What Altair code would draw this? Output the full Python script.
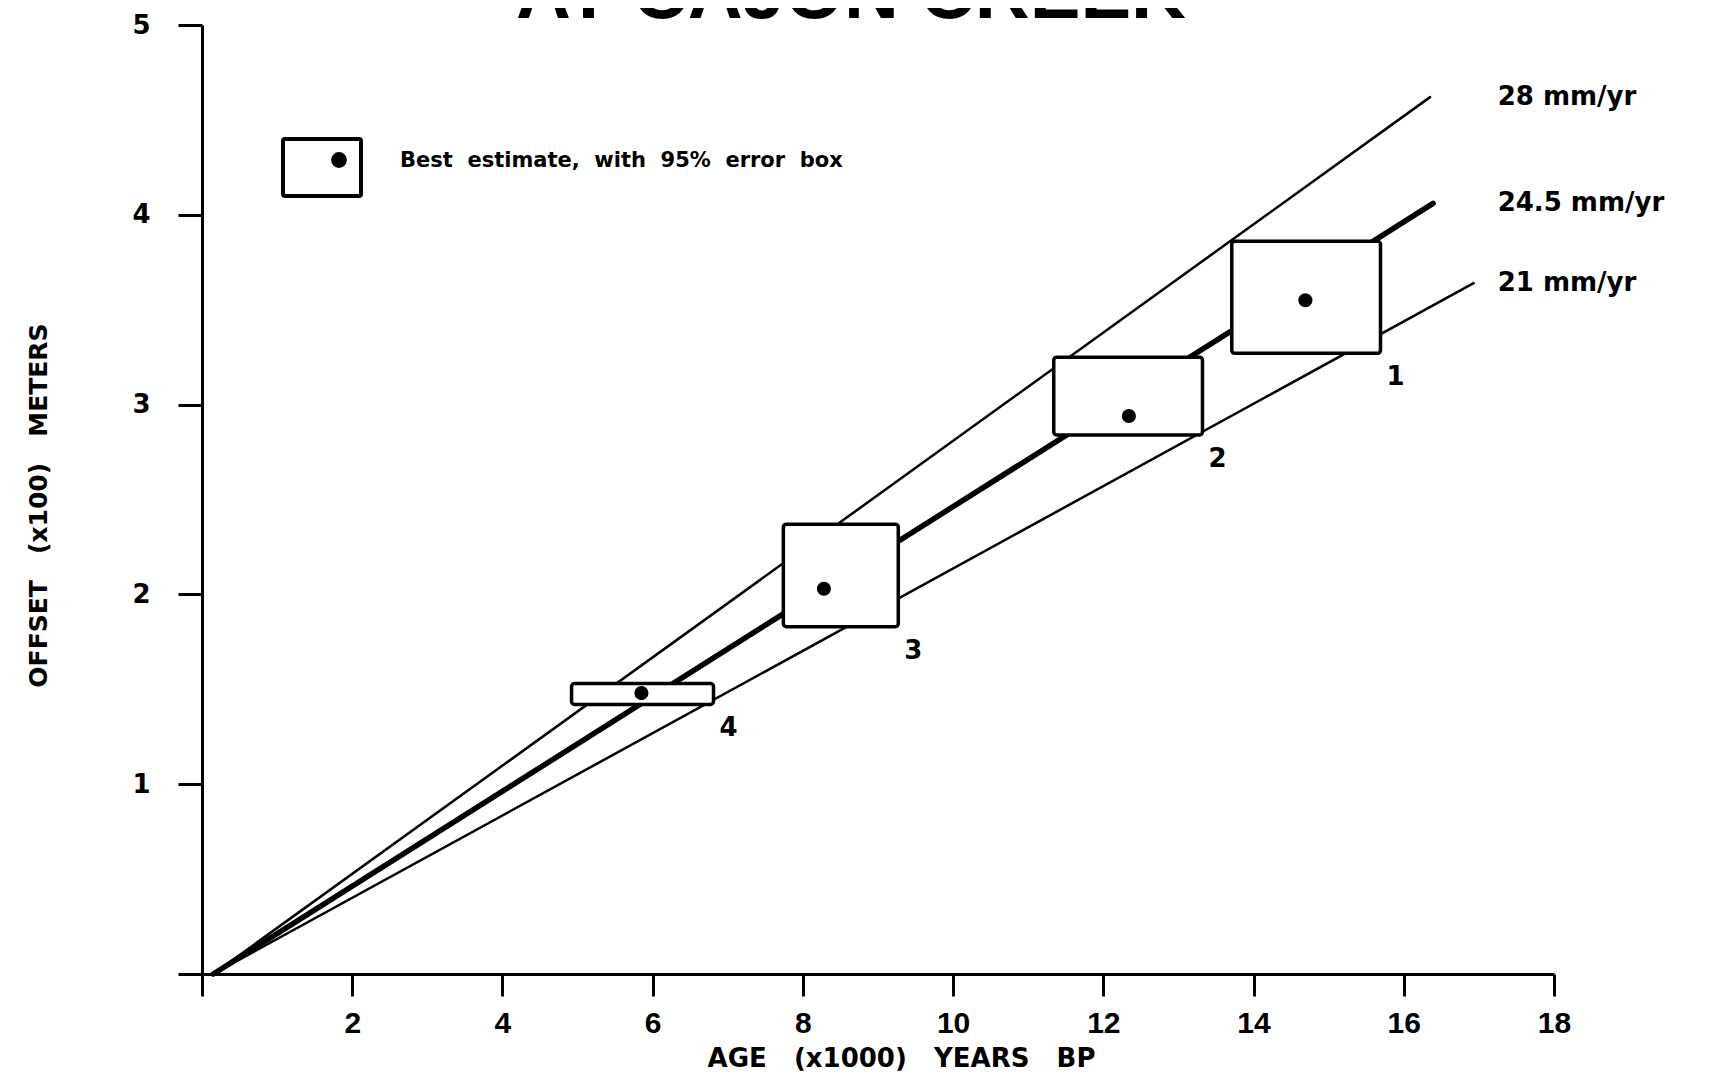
import altair as alt
import pandas as pd

NB = "\u00a0"

# Slip-rate lines (mm/yr), read as start / end points on the drawing (age in ka, offset in 100 m)
rate_labels = ["28 mm/yr", "24.5 mm/yr", "21 mm/yr"]
line_start_age = [0.15, 0.15, 0.15]
line_start_off = [0.0, 0.0, 0.0]
line_end_age = [16.35, 16.39, 16.93]
line_end_off = [4.62, 4.06, 3.64]

# Offset samples: 95% error boxes and best estimates
sample_ids = ["1", "2", "3", "4"]
age_lo = [13.71, 11.34, 7.74, 4.92]
age_hi = [15.69, 13.32, 9.27, 6.81]
off_lo = [3.27, 2.84, 1.83, 1.42]
off_hi = [3.86, 3.25, 2.37, 1.53]
best_age = [14.69, 12.34, 8.28, 5.85]
best_off = [3.55, 2.94, 2.03, 1.48]

x_ticks = [0, 2, 4, 6, 8, 10, 12, 14, 16, 18]
y_ticks = [0, 1, 2, 3, 4, 5]

lines_df = pd.DataFrame(
    [{"rate": r, "age": a0, "off": o0, "ord": 0}
     for r, a0, o0 in zip(rate_labels, line_start_age, line_start_off)]
    + [{"rate": r, "age": a1, "off": o1, "ord": 1}
       for r, a1, o1 in zip(rate_labels, line_end_age, line_end_off)]
)
ends_df = pd.DataFrame({"rate": rate_labels, "age": line_end_age, "off": line_end_off})
box_df = pd.DataFrame({
    "id": sample_ids, "age_lo": age_lo, "age_hi": age_hi,
    "off_lo": off_lo, "off_hi": off_hi, "age": best_age, "off": best_off,
})

BOLD = "DejaVu Sans"
S3 = NB * 3
xscale = alt.Scale(domain=[0, 18], nice=False, zero=False)
yscale = alt.Scale(domain=[0, 5], nice=False, zero=False)

x_axis = alt.Axis(
    values=x_ticks, format="d", labelExpr="datum.value == 0 ? '' : datum.label",
    title=f"AGE{S3}(x1000){S3}YEARS{S3}BP",
    tickSize=22, tickWidth=3, domainWidth=3, tickColor="black", domainColor="black",
    labelPadding=12, labelFont="Liberation Sans", labelFontWeight="bold", labelFontSize=30,
    labelColor="black", titleFont=BOLD, titleFontWeight="bold", titleFontSize=26,
    titleColor="black", titleX=699, titleY=92, titleAlign="center",
    titleBaseline="alphabetic", grid=False, labelFlush=False,
)
y_axis = alt.Axis(
    values=y_ticks, format="d", labelExpr="datum.value == 0 ? '' : datum.label",
    title=f"OFFSET{S3}(x100){S3}METERS",
    tickSize=24, tickWidth=3, domainWidth=3, tickColor="black", domainColor="black",
    labelPadding=28, labelFont=BOLD, labelFontWeight="bold", labelFontSize=26,
    labelColor="black", titleFont=BOLD, titleFontWeight="bold", titleFontSize=25,
    titleColor="black", titleX=-164, titleY=480, titleAngle=270, titleAlign="center",
    titleBaseline="middle", grid=False, labelFlush=False,
)


def X(field):
    return alt.X(field, type="quantitative", scale=xscale, axis=x_axis)


def Y(field):
    return alt.Y(field, type="quantitative", scale=yscale, axis=y_axis)


lines = alt.Chart(lines_df).mark_line(color="black", strokeCap="round").encode(
    x=X("age"), y=Y("off"), detail="rate:N", order="ord:Q",
    strokeWidth=alt.condition(
        alt.datum.rate == "24.5 mm/yr", alt.value(5.5), alt.value(2.5)
    ),
)

rate_text = alt.Chart(ends_df).mark_text(
    align="left", baseline="middle", font=BOLD, fontWeight="bold", fontSize=26, color="black"
).encode(x=alt.datum(17.25, scale=xscale), y=Y("off"), text="rate:N")

boxes = alt.Chart(box_df).mark_rect(
    fill="white", stroke="black", strokeWidth=3.5, cornerRadius=3
).encode(x=X("age_lo"), x2="age_hi", y=Y("off_lo"), y2="off_hi")

dots = alt.Chart(box_df).mark_circle(color="black", opacity=1, size=200).encode(
    x=X("age"), y=Y("off")
)

ids = alt.Chart(box_df).mark_text(
    align="center", baseline="middle", dx=15, dy=24,
    font=BOLD, fontWeight="bold", fontSize=26, color="black",
).encode(x=X("age_hi"), y=Y("off_lo"), text="id:N")

one = alt.Data(values=[{"k": 1}])
legend_box = alt.Chart(one).mark_rect(
    fill="white", stroke="black", strokeWidth=4, cornerRadius=2
).encode(x=alt.value(81), x2=alt.value(159), y=alt.value(114), y2=alt.value(171))
legend_dot = alt.Chart(one).mark_circle(color="black", opacity=1, size=250).encode(
    x=alt.value(137), y=alt.value(135)
)
legend_text = alt.Chart(one).mark_text(
    align="left", baseline="middle", font=BOLD, fontWeight="bold", fontSize=21, color="black"
).encode(
    x=alt.value(198), y=alt.value(136),
    text=alt.value(f"Best{NB}{NB}estimate,{NB}{NB}with{NB}{NB}95%{NB}{NB}error{NB}{NB}box"),
)

title = alt.Chart(one).mark_text(
    align="center", baseline="alphabetic", font="Liberation Sans", fontWeight="bold",
    fontSize=76, color="black",
).encode(x=alt.value(649), y=alt.value(-7), text=alt.value("AT CAJON CREEK"))

chart = alt.layer(
    lines, boxes, dots, ids, rate_text, legend_box, legend_dot, legend_text, title
).properties(
    width=1352, height=949,
    autosize=alt.AutoSizeParams(type="none"),
    padding={"left": 194, "top": 17, "right": 144, "bottom": 102},
    background="white",
).configure_view(stroke=None)

chart.save("out.html", embed_options={"renderer": "svg", "actions": False})
